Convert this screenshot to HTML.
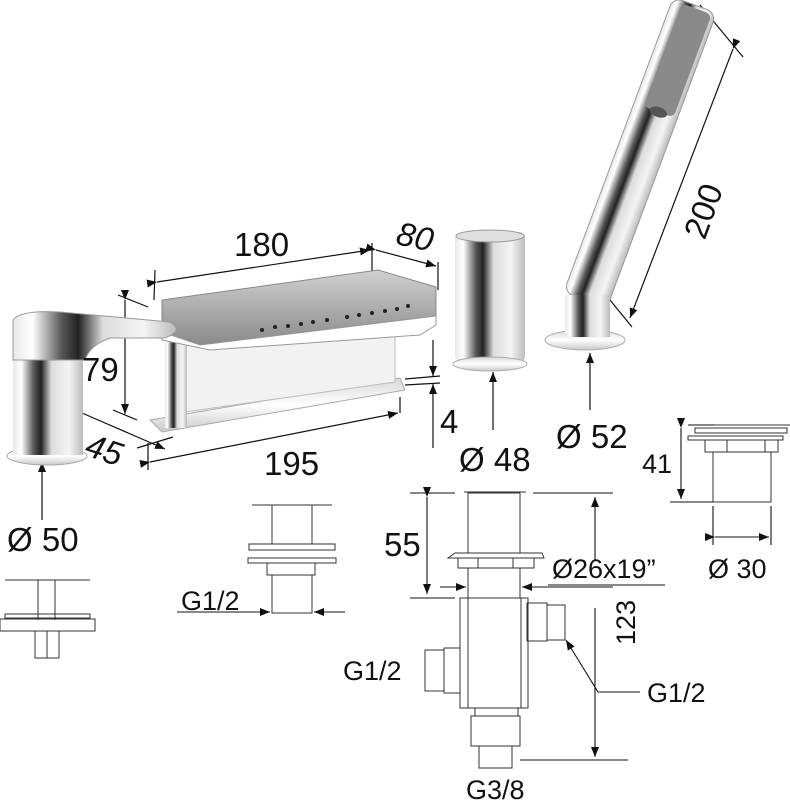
<!DOCTYPE html>
<html><head><meta charset="utf-8"><style>
html,body{margin:0;padding:0;background:#fff;}
svg{display:block;}
text{font-family:"Liberation Sans",Arial,sans-serif;fill:#111;}
</style></head><body>
<svg width="790" height="800" viewBox="0 0 790 800" xmlns="http://www.w3.org/2000/svg">
<defs>
<linearGradient id="chr" x1="0" x2="1" y1="0" y2="0">
<stop offset="0" stop-color="#e8e8e8"/><stop offset="0.12" stop-color="#fff"/><stop offset="0.3" stop-color="#555"/><stop offset="0.4" stop-color="#222"/><stop offset="0.55" stop-color="#ddd"/><stop offset="0.8" stop-color="#f4f4f4"/><stop offset="1" stop-color="#bbb"/>
</linearGradient>
<linearGradient id="chr2" x1="0" x2="0" y1="0" y2="1">
<stop offset="0" stop-color="#d8d8d8"/><stop offset="0.5" stop-color="#fff"/><stop offset="1" stop-color="#c8c8c8"/>
</linearGradient>
<linearGradient id="top" x1="0" x2="0" y1="0" y2="1">
<stop offset="0" stop-color="#d0d0d0"/><stop offset="1" stop-color="#8a8a8a"/>
</linearGradient>
<marker id="a" markerWidth="10" markerHeight="8" refX="10" refY="4" orient="auto" markerUnits="userSpaceOnUse"><path d="M0,0 L10,4 L0,8 z" fill="#111"/></marker>
</defs>
<g stroke="#111" stroke-width="1.2" fill="none">
<line x1="155" y1="270" x2="154" y2="300"/>
<line x1="372" y1="243" x2="372" y2="272"/>
<line x1="157" y1="282" x2="370" y2="250" marker-start="url(#a)" marker-end="url(#a)"/>
<line x1="438" y1="262" x2="438" y2="290"/>
<line x1="376" y1="250" x2="436" y2="266" marker-start="url(#a)" marker-end="url(#a)"/>
<line x1="118" y1="295" x2="148" y2="307"/>
<line x1="113" y1="410" x2="137" y2="420"/>
<line x1="125" y1="300" x2="125" y2="414" marker-start="url(#a)" marker-end="url(#a)"/>
<line x1="82" y1="413" x2="165" y2="449" marker-start="url(#a)" marker-end="url(#a)"/>
<line x1="137" y1="448" x2="173" y2="437"/>
<line x1="148" y1="443" x2="148" y2="470"/>
<line x1="400" y1="397" x2="400" y2="413"/>
<line x1="150" y1="462" x2="398" y2="413" marker-start="url(#a)" marker-end="url(#a)"/>
<line x1="405" y1="379" x2="440" y2="376"/>
<line x1="405" y1="385" x2="440" y2="383"/>
<line x1="433" y1="340" x2="433" y2="376" marker-end="url(#a)"/>
<line x1="433" y1="448" x2="433" y2="384" marker-end="url(#a)"/>
<line x1="493" y1="430" x2="493" y2="372" marker-end="url(#a)"/>
<line x1="590" y1="410" x2="590" y2="353" marker-end="url(#a)"/>
<line x1="42" y1="520" x2="42" y2="462" marker-end="url(#a)"/>
<line x1="700" y1="5" x2="743" y2="57"/>
<line x1="610" y1="300" x2="632" y2="327"/>
<line x1="733" y1="49" x2="630" y2="318" marker-start="url(#a)" marker-end="url(#a)"/>
</g>

<g transform="rotate(20.4 640 150)">
<rect x="618" y="-5" width="46" height="315" rx="10" fill="url(#chr)" stroke="#999"/>
<rect x="628" y="-2" width="32" height="110" rx="6" fill="#8a8a8a"/>
<ellipse cx="644" cy="108" rx="9" ry="5" fill="#555"/>
</g>
<ellipse cx="585" cy="340" rx="40" ry="10" fill="url(#chr2)" stroke="#aaa"/>
<rect x="565" y="295" width="45" height="42" fill="url(#chr)"/>

<rect x="455" y="232" width="70" height="130" rx="6" fill="url(#chr)"/>
<ellipse cx="490" cy="236" rx="34" ry="6" fill="#e0e0e0" stroke="#999"/>
<ellipse cx="490" cy="364" rx="37" ry="7" fill="url(#chr2)" stroke="#aaa"/>

<polygon points="150,420 400,378 405,390 162,432" fill="url(#chr2)" stroke="#aaa"/>
<polygon points="185,345 395,330 395,382 185,412" fill="#f2f2f2" stroke="#bbb"/>
<rect x="165" y="330" width="22" height="98" fill="url(#chr)"/>
<polygon points="162,300 378,270 436,287 436,316 200,345 162,332" fill="url(#top)" stroke="#888"/>
<polygon points="162,332 200,345 436,316 436,325 420,335 210,350 162,340" fill="#fff" stroke="#999"/>
<g fill="#222">
<circle cx="262" cy="330" r="2"/><circle cx="275" cy="327" r="2"/><circle cx="288" cy="326" r="2"/><circle cx="301" cy="324" r="2"/><circle cx="313" cy="322" r="2"/><circle cx="327" cy="320" r="2"/>
<circle cx="347" cy="317" r="2"/><circle cx="359" cy="315" r="2"/><circle cx="372" cy="313" r="2"/><circle cx="385" cy="311" r="2"/><circle cx="397" cy="309" r="2"/><circle cx="408" cy="306" r="2"/>
</g>

<ellipse cx="47" cy="456" rx="40" ry="9" fill="url(#chr2)" stroke="#aaa"/>
<rect x="13" y="360" width="70" height="95" fill="url(#chr)"/>
<path d="M13,320 Q20,310 60,312 L170,322 Q185,330 165,338 L110,338 Q90,345 85,360 L13,360 z" fill="url(#chr)" stroke="#999"/>

<g stroke="#333" stroke-width="1" fill="none">
<line x1="5" y1="580" x2="90" y2="580"/>
<line x1="38" y1="580" x2="38" y2="620"/><line x1="55" y1="580" x2="55" y2="620"/>
<rect x="5" y="614" width="85" height="4"/>
<rect x="0" y="619" width="95" height="12"/>
<rect x="35" y="631" width="24" height="27"/>
<line x1="47" y1="631" x2="47" y2="658"/>
</g>
<g stroke="#333" stroke-width="1" fill="none">
<line x1="252" y1="505" x2="332" y2="505"/>
<line x1="272" y1="505" x2="272" y2="544"/><line x1="312" y1="505" x2="312" y2="544"/>
<rect x="249" y="544" width="86" height="6"/>
<rect x="248" y="558" width="88" height="5"/>
<rect x="267" y="563" width="48" height="12"/>
<rect x="272" y="575" width="40" height="38"/>
</g>
<g stroke="#111" stroke-width="1.1" fill="none">
<line x1="177" y1="612" x2="270" y2="612" marker-end="url(#a)"/>
<line x1="345" y1="612" x2="314" y2="612" marker-end="url(#a)"/>
</g>

<g stroke="#333" stroke-width="1" fill="none">
<line x1="464" y1="492" x2="526" y2="492"/>
<rect x="468" y="493" width="52" height="60"/>
<path d="M448,558 L455,553 L542,553 L544,558 z"/>
<rect x="458" y="558" width="76" height="10"/>
<line x1="478" y1="558" x2="478" y2="568"/><line x1="513" y1="558" x2="513" y2="568"/>
<rect x="468" y="568" width="52" height="30"/>
<rect x="460" y="598" width="68" height="110"/>
<line x1="468" y1="598" x2="468" y2="708"/><line x1="521" y1="598" x2="521" y2="708"/>
<rect x="527" y="603" width="20" height="38"/>
<rect x="547" y="605" width="18" height="35"/>
<rect x="444" y="648" width="16" height="45"/>
<rect x="425" y="650" width="19" height="41"/>
<rect x="475" y="708" width="43" height="8"/>
<rect x="471" y="716" width="49" height="30"/>
<rect x="479" y="746" width="33" height="22"/>
</g>
<g stroke="#111" stroke-width="1.1" fill="none">
<line x1="410" y1="493" x2="455" y2="493"/>
<line x1="533" y1="493" x2="613" y2="493"/>
<line x1="410" y1="598" x2="455" y2="598"/>
<line x1="427" y1="497" x2="427" y2="594" marker-start="url(#a)" marker-end="url(#a)"/>
<line x1="595" y1="560" x2="595" y2="497" marker-end="url(#a)"/>
<line x1="440" y1="587" x2="466" y2="587" marker-end="url(#a)"/>
<line x1="613" y1="587" x2="522" y2="587" marker-end="url(#a)"/>
<line x1="548" y1="585" x2="665" y2="585"/>
<line x1="595" y1="608" x2="595" y2="757" marker-end="url(#a)"/>
<line x1="520" y1="760" x2="628" y2="760"/>
<line x1="640" y1="692" x2="598" y2="692"/><line x1="598" y1="692" x2="566" y2="640" marker-end="url(#a)"/>
</g>

<g stroke="#333" stroke-width="1" fill="none">
<line x1="697" y1="425" x2="790" y2="425"/>
<rect x="695" y="428" width="92" height="5"/>
<rect x="688" y="436" width="95" height="4"/>
<rect x="705" y="440" width="73" height="12"/>
<line x1="727" y1="440" x2="727" y2="452"/><line x1="765" y1="440" x2="765" y2="452"/>
<rect x="713" y="452" width="58" height="50"/>
</g>
<g stroke="#111" stroke-width="1.1" fill="none">
<line x1="688" y1="425" x2="715" y2="425"/>
<line x1="670" y1="502" x2="713" y2="502"/>
<line x1="681" y1="428" x2="681" y2="499" marker-start="url(#a)" marker-end="url(#a)"/>
<line x1="713" y1="506" x2="713" y2="545"/><line x1="771" y1="506" x2="771" y2="545"/>
<line x1="715" y1="537" x2="769" y2="537" marker-start="url(#a)" marker-end="url(#a)"/>
</g>

<g font-size="33">
<text x="234" y="256">180</text>
<text x="396" y="248" font-style="italic" transform="rotate(12 415 240)">80</text>
<text x="82" y="381">79</text>
<text x="86" y="462" transform="rotate(18 107 450)" font-style="italic">45</text>
<text x="264" y="475">195</text>
<text x="440" y="433">4</text>
<text x="459" y="471">Ø 48</text>
<text x="556" y="448">Ø 52</text>
<text x="676" y="230" transform="rotate(-70 698 215)">200</text>
<text x="7" y="551">Ø 50</text>
<text x="384" y="556">55</text>
</g>
<g font-size="27">
<text x="642" y="473">41</text>
<text x="708" y="578">Ø 30</text>
<text x="552" y="578">Ø26x19”</text>
<text x="181" y="610">G1/2</text>
<text x="343" y="680">G1/2</text>
<text x="647" y="702">G1/2</text>
<text x="597" y="643" transform="rotate(-90 617 625)">123</text>
<text x="466" y="799">G3/8</text>
</g>
</svg>
</body></html>
